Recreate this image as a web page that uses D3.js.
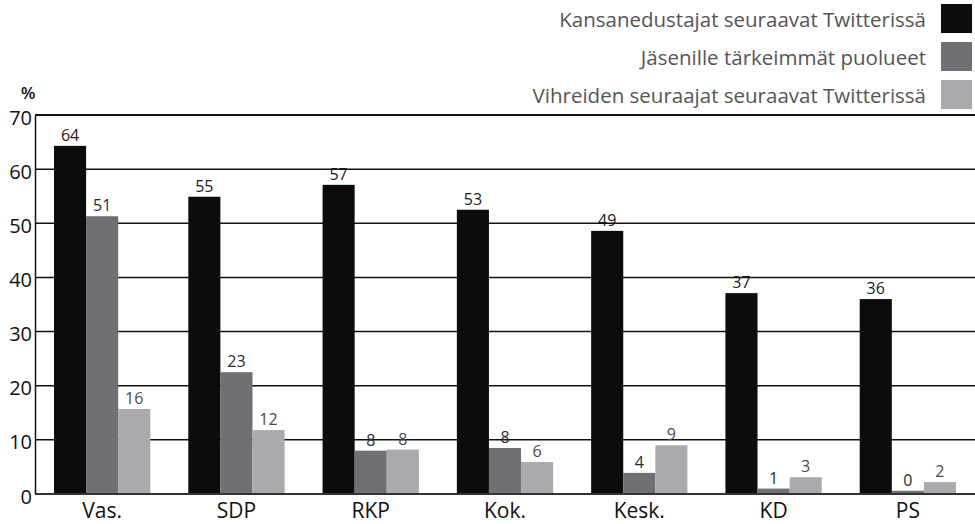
<!DOCTYPE html>
<html>
<head>
<meta charset="utf-8">
<script src="https://cdn.jsdelivr.net/npm/d3@7"></script>
<style>
  html, body { margin: 0; padding: 0; background: #fff; }
  svg { display: block; font-family: "Open Sans", "Noto Sans", sans-serif; }
</style>
</head>
<body>
<div id="chart"></div>
<script>
// --- data ---
const parties = ['Vas.', 'SDP', 'RKP', 'Kok.', 'Kesk.', 'KD', 'PS'];
const seriesNames = [
  'Kansanedustajat seuraavat Twitterissä',
  'Jäsenille tärkeimmät puolueet',
  'Vihreiden seuraajat seuraavat Twitterissä'
];
const mpValues      = [64.3, 54.9, 57.1, 52.5, 48.6, 37.1, 36.0];
const memberValues  = [51.3, 22.5, 8.0, 8.5, 3.9, 1.0, 0.6];
const greenValues   = [15.7, 11.8, 8.2, 5.9, 9.0, 3.1, 2.2];
const mpLabels      = [64, 55, 57, 53, 49, 37, 36];
const memberLabels  = [51, 23, 8, 8, 4, 1, 0];
const greenLabels   = [16, 12, 8, 6, 9, 3, 2];
const yTicks = [0, 10, 20, 30, 40, 50, 60, 70];

const colors = ['#0c0c0c', '#707074', '#a9aaad'];
const labelColors = ['#1a1a1a', '#2a2a2a', '#4a4a4a'];

const W = 975, H = 524;
const margin = { top: 115, right: 0, bottom: 30, left: 35 };

const svg = d3.select('#chart').append('svg').attr('width', W).attr('height', H);

const x = d3.scaleBand().domain(parties)
  .range([margin.left, W - margin.right])
  .paddingInner(0.283).paddingOuter(0.1415);
const keys = [0, 1, 2];
const xs = d3.scaleBand().domain(keys).range([0, x.bandwidth()]);
const y = d3.scaleLinear().domain([0, 70]).range([H - margin.bottom, margin.top]);

// gridlines
svg.append('g').selectAll('line').data(yTicks.filter(t => t > 0)).join('line')
  .attr('x1', margin.left).attr('x2', W)
  .attr('y1', d => y(d)).attr('y2', d => y(d))
  .attr('stroke', '#111').attr('stroke-width', d => d === 70 ? 2 : 1.5);

// y axis
const yAxis = svg.append('g').attr('transform', `translate(${margin.left},0)`)
  .call(d3.axisLeft(y).tickValues(yTicks).tickSize(0).tickPadding(3));
yAxis.select('.domain').attr('stroke', '#111').attr('stroke-width', 1.5);
yAxis.selectAll('text').attr('font-size', 20).attr('fill', '#111').attr('dy', '0.45em')
  .attr('font-family', '"Open Sans", sans-serif');

svg.append('text').attr('x', 28).attr('y', 99).attr('text-anchor', 'middle')
  .attr('font-size', 17).attr('font-weight', 600).attr('fill', '#111').text('%');

// bars
const rows = parties.map((p, i) => ({
  party: p,
  vals: [mpValues[i], memberValues[i], greenValues[i]],
  labels: [mpLabels[i], memberLabels[i], greenLabels[i]]
}));

const groups = svg.append('g').selectAll('g').data(rows).join('g')
  .attr('transform', d => `translate(${x(d.party)},0)`);

groups.selectAll('rect').data(d => d.vals.map((v, k) => ({ v, k }))).join('rect')
  .attr('x', d => xs(d.k)).attr('width', xs.bandwidth())
  .attr('y', d => y(d.v)).attr('height', d => y(0) - y(d.v))
  .attr('fill', d => colors[d.k]);

groups.selectAll('text.val').data(d => d.vals.map((v, k) => ({ v, k, l: d.labels[k] }))).join('text')
  .attr('class', 'val')
  .attr('x', d => xs(d.k) + xs.bandwidth() / 2)
  .attr('y', d => y(d.v) - 5)
  .attr('text-anchor', 'middle')
  .attr('font-size', 16)
  .attr('fill', d => labelColors[d.k])
  .text(d => d.l);

// x axis
const xAxis = svg.append('g').attr('transform', `translate(0,${y(0)})`)
  .call(d3.axisBottom(x).tickSize(0).tickPadding(9));
xAxis.select('.domain').attr('stroke', '#333').attr('stroke-width', 2)
  .attr('d', `M${margin.left},0H${W}`);
xAxis.selectAll('text').attr('font-size', 21).attr('fill', '#111')
  .attr('font-family', '"Open Sans", sans-serif');

// legend
const legend = svg.append('g').selectAll('g').data(seriesNames).join('g')
  .attr('transform', (d, i) => `translate(0,${4 + i * 38})`);
legend.append('rect').attr('x', 941).attr('y', 0).attr('width', 31).attr('height', 29)
  .attr('fill', (d, i) => colors[i]);
legend.append('text').attr('x', 926).attr('y', 23).attr('text-anchor', 'end')
  .attr('font-size', 20.5).attr('fill', '#555').text(d => d);
</script>
</body>
</html>
